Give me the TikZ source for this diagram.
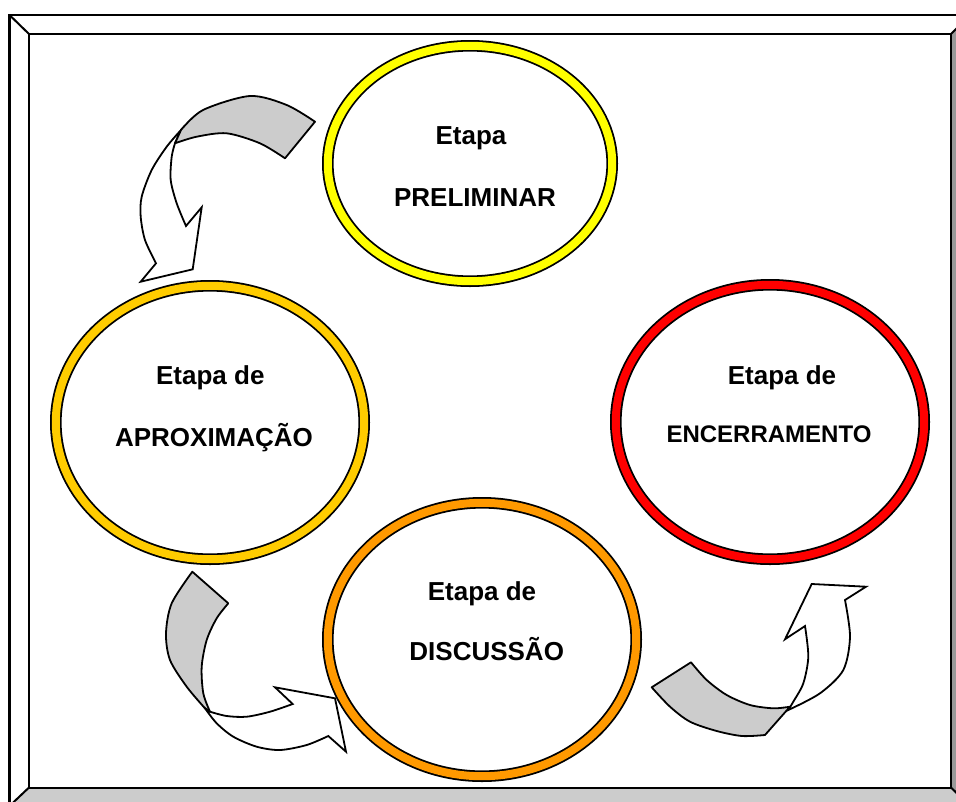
\documentclass[tikz,border=0pt]{standalone}
\usepackage{fontspec}
\setmainfont{Liberation Sans}
\usetikzlibrary{shapes.geometric}
\definecolor{bandgray}{HTML}{CCCCCC}
\definecolor{bevdark}{HTML}{999999}
\definecolor{ringyellow}{HTML}{FFFF00}
\definecolor{ringgold}{HTML}{FFCC00}
\definecolor{ringorange}{HTML}{FF9900}
\definecolor{ringred}{HTML}{FF0000}
\begin{document}
\begin{tikzpicture}[x=1pt,y=-1pt,
  ring/.style={ellipse, draw=black, line width=1.8pt, double distance=8pt, fill=white, inner sep=0pt},
  lbl/.style={anchor=base, font=\fontsize{26}{30}\selectfont\bfseries, inner sep=0pt},
  lblsmall/.style={anchor=base, font=\fontsize{24}{28}\selectfont\bfseries, inner sep=0pt},
  bandshape/.style={fill=bandgray, draw=black, line width=1.8pt, line join=round},
  arrowshape/.style={fill=white, draw=black, line width=1.8pt, line join=miter}]
\useasboundingbox (0,0) rectangle (956,801);
\clip (0,0) rectangle (956,801);
\fill[white] (0,0) rectangle (956,801);
% bevel frame
\fill[white] (9.5,15) rectangle (970,806);
\fill[bandgray] (9.5,806) -- (29,787.5) -- (951,787.5) -- (970,806) -- cycle;
\fill[bevdark] (970,15) -- (951,34) -- (951,787.5) -- (970,806) -- cycle;
\draw[line width=2.5pt] (9.5,15) rectangle (970,806);
\draw[line width=2pt] (29,34) rectangle (951,787.5);
\draw[line width=2pt] (9.5,15) -- (29,34) (970,15) -- (951,34) (9.5,806) -- (29,787.5) (970,806) -- (951,787.5);

% arrow 1 (top-left)
\path[arrowshape] plot[smooth] coordinates {(181,130) (166.7,146.7) (151.7,170) (141.7,196.7) (140.7,216.7) (145,240) (156,263.3)}
  -- (140.7,281.7) -- (192.7,269.3) -- (201.7,207.3) -- (186,226)
  -- plot[smooth] coordinates {(186,226) (176.7,203.3) (170.7,180) (171.7,156.7) (175,143.3)} -- cycle;
\path[bandshape] plot[smooth] coordinates {(181,130) (203,110) (250,96) (286.7,105) (315,121.7)}
  -- (285,158.3)
  -- plot[smooth] coordinates {(285,158.3) (260,143.3) (226.7,133.3) (196.7,136.7) (175,143.3)} -- cycle;

% arrow 2 (bottom-left)
\path[bandshape] plot[smooth] coordinates {(192.3,571.7) (171.7,603.3) (166,633.3) (170,660) (186.7,686.7) (205,708.3)}
  -- (210,711.7)
  -- plot[smooth] coordinates {(210,711.7) (203.3,693.3) (201.7,666.7) (206.7,640) (216.7,618.3) (228.3,603.3)} -- cycle;
\path[arrowshape] plot[smooth] coordinates {(205,708.3) (216.7,723.3) (233.3,736.7) (256.7,746.7) (280,750) (306.7,745) (328.3,736)}
  -- (346,751.7) -- (335,698.3) -- (275,687.3) -- (292.7,704)
  -- plot[smooth] coordinates {(292.7,704) (270,711.7) (246.7,716.7) (226.7,716) (210,711.7)} -- cycle;

% arrow 3 (bottom-right)
\path[bandshape] plot[smooth] coordinates {(651.7,687.3) (670,706.7) (690,721.7) (716.7,731) (742,736) (765,735)}
  -- (790,706.7)
  -- plot[smooth] coordinates {(790,706.7) (773.3,708.3) (750,705) (726.7,695) (706.7,680) (691,662.3)} -- cycle;
\path[arrowshape] plot[smooth] coordinates {(788.3,710) (793.3,701.7) (803.3,683.3) (808.3,656.7) (805,626)}
  -- (785,639.3) -- (811.7,584) -- (866,586.7) -- (845,600)
  -- plot[smooth] coordinates {(845,600) (850,636.7) (843.3,670) (820,693.3) (788.3,710)} -- cycle;

% stages
\node[ring, double=ringyellow, minimum width=284.4pt, minimum height=235.4pt] (prelim) at (470,163.5) {};
\node[ring, double=ringgold, minimum width=308.4pt, minimum height=273.4pt] (aprox) at (210,422.5) {};
\node[ring, double=ringred, minimum width=308.4pt, minimum height=274.4pt] (encer) at (770,422) {};
\node[ring, double=ringorange, minimum width=308.4pt, minimum height=273.4pt] (disc) at (482,639.5) {};

\node[lbl] (prelimA) at (471,144.3) {Etapa};
\node[lbl] (prelimB) at (475,206.7) {PRELIMINAR};
\node[lbl] (aproxA) at (210.3,384.3) {Etapa de};
\node[lbl] (aproxB) at (214,446.7) {APROXIMAÇÃO};
\node[lbl] (encerA) at (782,384) {Etapa de};
\node[lblsmall] (encerB) at (769,442.3) {ENCERRAMENTO};
\node[lbl] (discA) at (482,600) {Etapa de};
\node[lbl] (discB) at (486.7,660.7) {DISCUSSÃO};
\end{tikzpicture}
\end{document}
